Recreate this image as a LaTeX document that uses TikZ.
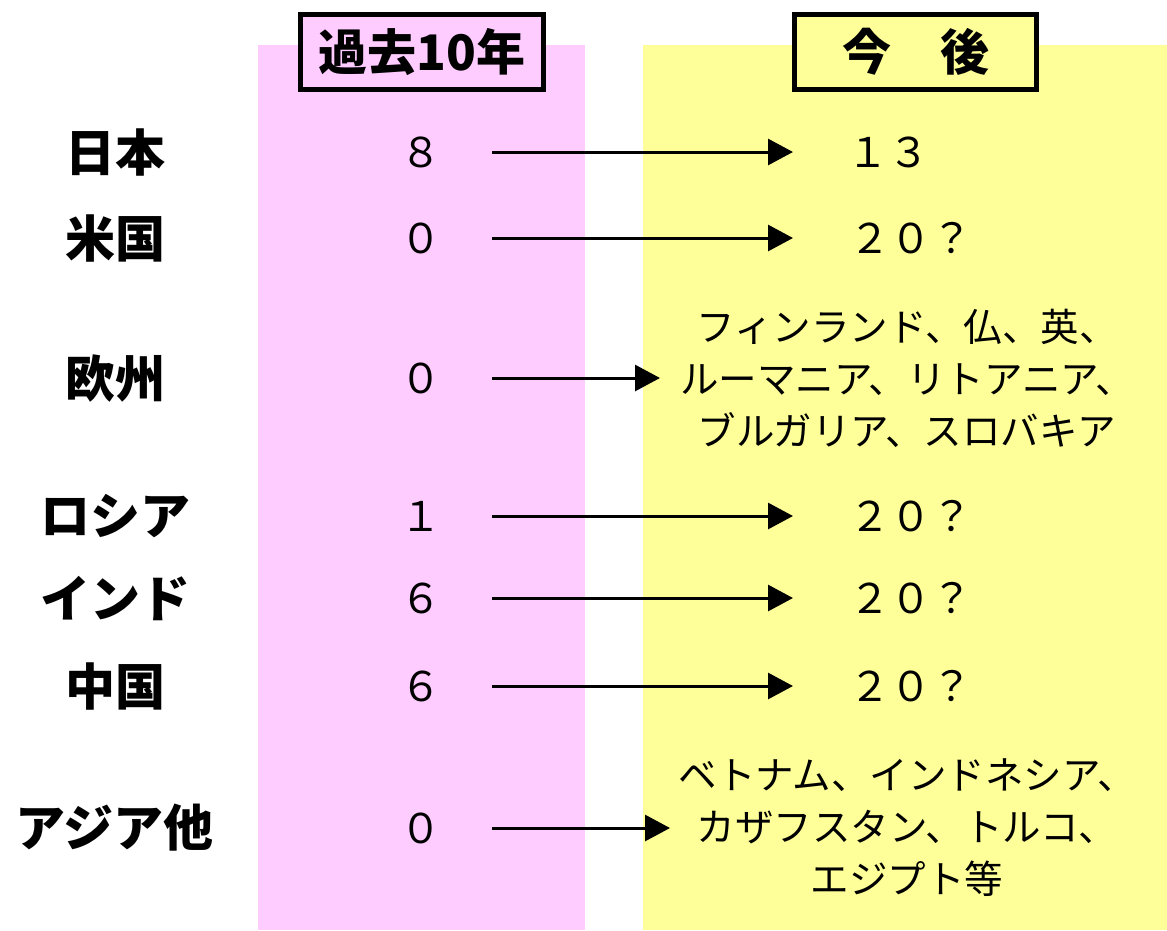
\documentclass[tikz,border=0pt]{standalone}
\usepackage{fontspec}
\setmainfont{Noto Sans CJK JP}
\usetikzlibrary{arrows.meta}
\definecolor{pinkc}{HTML}{FFCCFF}
\definecolor{yellowc}{HTML}{FFFF99}
\tikzset{
  lbl/.style={font=\fontsize{50}{54}\selectfont\bfseries, inner sep=0pt},
  num/.style={font=\fontsize{41}{44}\selectfont, inner sep=0pt},
  fut/.style={font=\fontsize{38.5}{52}\selectfont, inner sep=0pt, align=center},
  hdr/.style={draw, line width=5pt, minimum width=243pt, minimum height=75pt, inner sep=0pt, font=\fontsize{49}{52}\selectfont\bfseries},
  arr/.style={line width=3pt, -{Triangle[length=25pt,width=26pt]}}
}
\begin{document}
\begin{tikzpicture}[x=1pt,y=-1pt]
\useasboundingbox (0,0) rectangle (1167,930);
\fill[pinkc] (258,45) rectangle (585,930);
\fill[yellowc] (643,45) rectangle (1167,930);
\node[hdr, fill=pinkc] (h1) at (422,52) {過去10年};
\node[hdr, fill=yellowc, minimum width=242pt] (h2) at (915.5,52) {今　後};
% labels
\node[lbl] (l1) at (115,152) {日本};
\node[lbl] (l2) at (115,238) {米国};
\node[lbl] (l3) at (115,378) {欧州};
\node[lbl] (l4) at (115,516) {ロシア};
\node[lbl] (l5) at (115,598) {インド};
\node[lbl] (l6) at (115,686) {中国};
\node[lbl] (l7) at (115,828) {アジア他};
% past numbers
\node[num] (n1) at (421,152) {８};
\node[num] (n2) at (421,238) {０};
\node[num] (n3) at (421,378) {０};
\node[num] (n4) at (421,516) {１};
\node[num] (n5) at (421,598) {６};
\node[num] (n6) at (421,686) {６};
\node[num] (n7) at (421,828) {０};
% future
\node[num] (f1) at (888,152) {１３};
\node[num] (f2) at (911,238) {２０？};
\node[fut] (f3) at (907,378) {フィンランド、仏、英、\\ルーマニア、リトアニア、\\ブルガリア、スロバキア};
\node[num] (f4) at (911,516) {２０？};
\node[num] (f5) at (911,598) {２０？};
\node[num] (f6) at (911,686) {２０？};
\node[fut] (f7) at (907,828) {ベトナム、インドネシア、\\カザフスタン、トルコ、\\エジプト等};
% arrows
\foreach \i/\y/\e in {1/152/793,2/238/793,3/378/660,4/516/793,5/598/793,6/686/793,7/828/670}{
  \coordinate (s\i) at (492,\y);
  \coordinate (e\i) at (\e,\y);
  \draw[arr] (s\i) -- (e\i);
}
\end{tikzpicture}
\end{document}
